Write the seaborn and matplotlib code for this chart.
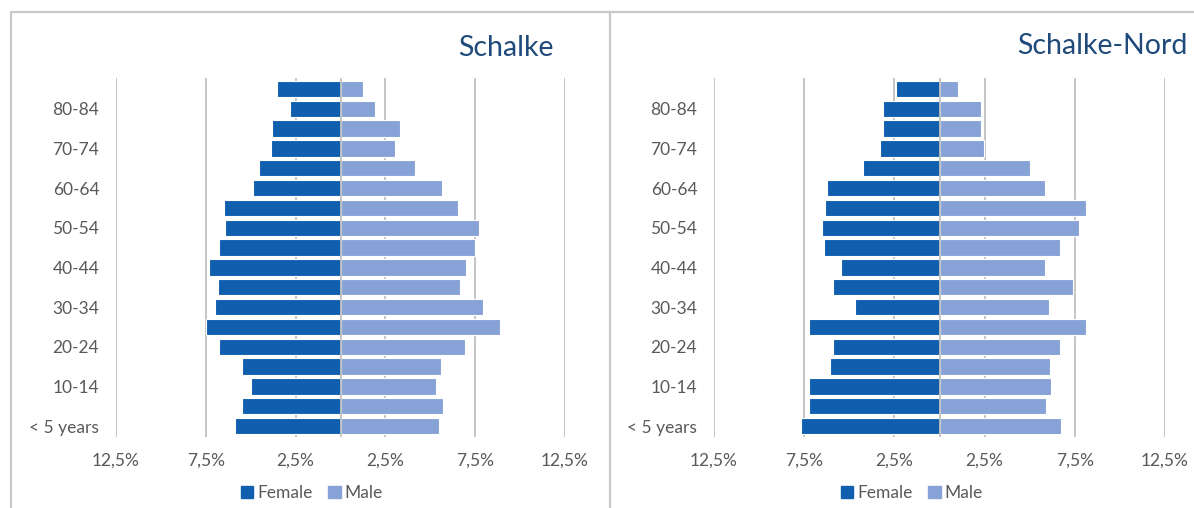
import numpy as np
import pandas as pd
import matplotlib.pyplot as plt
import seaborn as sns
from matplotlib.lines import Line2D
from matplotlib.patches import Patch

# age groups, bottom -> top
AGES = ["< 5 years", "5-9", "10-14", "15-19", "20-24", "25-29", "30-34", "35-39",
        "40-44", "45-49", "50-54", "55-59", "60-64", "65-69", "70-74", "75-79",
        "80-84", "85+"]

# shares in %, same order as AGES
SCHALKE_FEMALE = [5.85, 5.47, 5.0, 5.47, 6.74, 7.47, 6.96, 6.83, 7.32, 6.74,
                  6.45, 6.49, 4.87, 4.53, 3.87, 3.81, 2.83, 3.55]
SCHALKE_MALE = [5.47, 5.70, 5.34, 5.62, 6.94, 8.89, 7.96, 6.64, 7.0, 7.49,
                7.70, 6.55, 5.66, 4.13, 3.04, 3.32, 1.94, 1.28]
NORD_FEMALE = [7.70, 7.26, 7.26, 6.08, 5.91, 7.22, 4.71, 5.91, 5.48, 6.41,
               6.54, 6.37, 6.22, 4.25, 3.28, 3.15, 3.11, 2.41]
NORD_MALE = [6.72, 5.93, 6.16, 6.12, 6.70, 8.13, 6.06, 7.41, 5.83, 6.66,
             7.72, 8.13, 5.87, 5.02, 2.49, 2.32, 2.28, 1.04]

TICKS = [-12.5, -7.5, -2.5, 2.5, 7.5, 12.5]
TICK_LABELS = ["12,5%", "7,5%", "2,5%", "2,5%", "7,5%", "12,5%"]

FEMALE_COLOR = "#0F5FAE"
MALE_COLOR = "#87A2D6"
TEXT_COLOR = "#595959"
TITLE_COLOR = "#1F4A7A"
GRID_COLOR = "#C0C0C0"

sns.set_theme(style="white")
plt.rcParams["font.family"] = ["Lato", "DejaVu Sans"]

fig = plt.figure(figsize=(11.94, 5.08), dpi=100)

order = AGES[::-1]  # seaborn draws first category on top


def pyramid(ax, female, male):
    df = pd.DataFrame({"age": AGES, "female": -np.array(female), "male": male})
    sns.barplot(data=df, x="female", y="age", order=order, orient="h",
                color=FEMALE_COLOR, saturation=1, width=0.82,
                edgecolor="white", linewidth=0.8, ax=ax)
    sns.barplot(data=df, x="male", y="age", order=order, orient="h",
                color=MALE_COLOR, saturation=1, width=0.82,
                edgecolor="white", linewidth=0.8, ax=ax)
    ax.set_xlim(-12.5, 12.5)
    ax.set_ylim(17.55, -0.55)
    ax.set_xticks(TICKS)
    ax.set_xticklabels(TICK_LABELS)
    for t in TICKS:
        ax.axvline(t, color=GRID_COLOR, lw=1.3, zorder=0)
    ax.axvline(0, color=GRID_COLOR, lw=1.3, zorder=3)
    ax.set_yticks(range(len(order)))
    ax.set_yticklabels([lab if i % 2 == 1 else "" for i, lab in enumerate(order)])
    ax.tick_params(axis="both", length=0, labelsize=12.5, colors=TEXT_COLOR)
    ax.tick_params(axis="x", pad=11)
    ax.tick_params(axis="y", pad=12)
    ax.set_xlabel("")
    ax.set_ylabel("")
    sns.despine(ax=ax, left=True, bottom=True)


ax1 = fig.add_axes([116 / 1194, 1 - 437 / 508, 449 / 1194, 359 / 508])
pyramid(ax1, SCHALKE_FEMALE, SCHALKE_MALE)
ax2 = fig.add_axes([714 / 1194, 1 - 437 / 508, 451 / 1194, 359 / 508])
pyramid(ax2, NORD_FEMALE, NORD_MALE)

# titles
fig.text(554 / 1194, 1 - 48 / 508, "Schalke", ha="right", va="center",
         fontsize=20.5, color=TITLE_COLOR)
fig.text(1187 / 1194, 1 - 46 / 508, "Schalke-Nord", ha="right", va="center",
         fontsize=20.5, color=TITLE_COLOR)

# chart frames
frame = dict(color="#C8C8C8", lw=1.6, transform=fig.transFigure)
fig.add_artist(Line2D([11 / 1194, 1], [1 - 12 / 508] * 2, **frame))
fig.add_artist(Line2D([11 / 1194] * 2, [0, 1 - 12 / 508], **frame))
fig.add_artist(Line2D([610 / 1194] * 2, [0, 1 - 12 / 508], **frame))

# legends
handles = [Patch(color=FEMALE_COLOR, label="Female"), Patch(color=MALE_COLOR, label="Male")]
for cx in (312 / 1194, 912 / 1194):
    fig.legend(handles=handles, loc="center", bbox_to_anchor=(cx, 1 - 493 / 508),
               ncol=2, frameon=False, fontsize=12.5, labelcolor=TEXT_COLOR,
               handlelength=0.7, handleheight=0.7, handletextpad=0.25,
               columnspacing=0.9)

fig.savefig("out.png", dpi=100)
